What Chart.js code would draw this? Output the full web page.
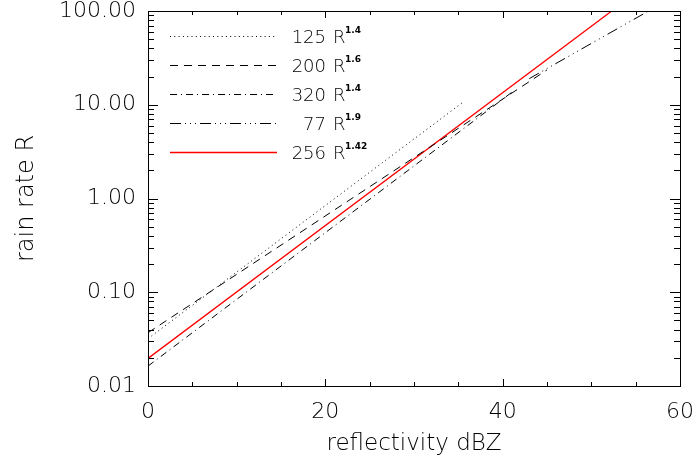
<!DOCTYPE html>
<html>
<head>
<meta charset="utf-8">
<script src="https://cdn.jsdelivr.net/npm/chart.js@4.4.1/dist/chart.umd.min.js"></script>
<style>
  html, body { margin: 0; padding: 0; background: #fff; }
  #wrap { width: 693px; height: 461px; }
</style>
</head>
<body>
<div id="wrap"><canvas id="zr"></canvas></div>
<script>
// Z-R relations, endpoints (dBZ, rain rate)
const dbz125 = [0, 35.5];
const rain125 = [0.032, 10.6];
const dbz200 = [0, 45];
const rain200 = [0.037, 23.5];
const dbz320 = [0, 41];
const rain320 = [0.0163, 13.5];
const dbz77 = [43, 56.7];
const rain77 = [19, 103];
const dbz256 = [0, 52.3];
const rain256 = [0.0197, 100];

const coefs = ['125', '200', '320', '77', '256'];
const exps = ['1.4', '1.6', '1.4', '1.9', '1.42'];

const xTicks = [0, 20, 40, 60];
const yTicks = [0.01, 0.1, 1, 10, 100];

const FONT = "'DejaVu Sans', 'Open Sans', sans-serif";

function pts(xs, ys) {
  return xs.map((x, i) => ({ x: x, y: ys[i] }));
}

// no extra room for labels hanging over the ends of the axes
function noPad(s) {
  s.paddingTop = 0; s.paddingBottom = 0;
  s.paddingLeft = 0; s.paddingRight = 0;
}

// inward IDL-style ticks and the plot frame
const frame = {
  id: 'frame',
  afterDatasetsDraw(chart) {
    const { ctx, chartArea: a, scales: { x, y } } = chart;
    ctx.save();
    ctx.strokeStyle = '#000';
    ctx.lineWidth = 1;
    ctx.setLineDash([]);
    ctx.strokeRect(a.left + 0.5, a.top + 0.5, a.right - a.left, a.bottom - a.top);
    ctx.beginPath();
    for (let v = 0; v <= 60; v += 5) {
      const px = Math.round(x.getPixelForValue(v)) + 0.5;
      const len = v % 20 === 0 ? 7 : 4;
      ctx.moveTo(px, a.bottom); ctx.lineTo(px, a.bottom - len);
      ctx.moveTo(px, a.top); ctx.lineTo(px, a.top + len);
    }
    for (let d = 0.01; d <= 100; d *= 10) {
      for (let m = 1; m <= 9; m++) {
        const v = d * m;
        if (v > 100.0001) break;
        const py = Math.round(y.getPixelForValue(v)) + 0.5;
        const len = m === 1 ? 10 : 6;
        ctx.moveTo(a.left, py); ctx.lineTo(a.left + len, py);
        ctx.moveTo(a.right, py); ctx.lineTo(a.right - len, py);
      }
    }
    ctx.stroke();
    ctx.restore();
  }
};

// legend in the upper left of the plot, with superscript exponents
const zrLegend = {
  id: 'zrLegend',
  afterDatasetsDraw(chart) {
    const { ctx, chartArea: a } = chart;
    ctx.save();
    chart.data.datasets.forEach((ds, i) => {
      const yy = a.top + 25 + i * 29;
      ctx.strokeStyle = ds.borderColor;
      ctx.lineWidth = ds.borderWidth;
      ctx.setLineDash(ds.borderDash || []);
      ctx.beginPath();
      ctx.moveTo(a.left + 22, yy + 0.5);
      ctx.lineTo(a.left + 129, yy + 0.5);
      ctx.stroke();
      ctx.fillStyle = '#000';
      ctx.textBaseline = 'alphabetic';
      ctx.font = '200 18px ' + FONT;
      ctx.textAlign = 'right';
      ctx.fillText(coefs[i], a.left + 178, yy + 7);
      ctx.textAlign = 'left';
      ctx.fillText('R', a.left + 185, yy + 7);
      ctx.font = 'bold 9px ' + FONT;
      ctx.fillText(exps[i], a.left + 197, yy - 3);
    });
    ctx.restore();
  }
};

new Chart(document.getElementById('zr'), {
  type: 'line',
  data: {
    datasets: [
      { label: '125 R^1.4', data: pts(dbz125, rain125), borderColor: '#000', borderWidth: 1, borderDash: [1, 3.3] },
      { label: '200 R^1.6', data: pts(dbz200, rain200), borderColor: '#000', borderWidth: 1, borderDash: [8, 6] },
      { label: '320 R^1.4', data: pts(dbz320, rain320), borderColor: '#000', borderWidth: 1, borderDash: [7, 4, 1, 4] },
      { label: '77 R^1.9', data: pts(dbz77, rain77), borderColor: '#000', borderWidth: 1, borderDash: [11, 4, 1, 4, 1, 4, 1, 4] },
      { label: '256 R^1.42', data: pts(dbz256, rain256), borderColor: '#ff0000', borderWidth: 1.3 }
    ]
  },
  options: {
    responsive: true,
    maintainAspectRatio: false,
    animation: false,
    layout: { padding: { top: 11, right: 13, left: 0, bottom: 0 } },
    elements: { point: { radius: 0 }, line: { tension: 0 } },
    plugins: { legend: { display: false }, tooltip: { enabled: false } },
    scales: {
      x: {
        type: 'linear',
        min: 0, max: 60,
        afterBuildTicks: s => { s.ticks = xTicks.map(v => ({ value: v })); },
        afterFit: s => { s.height = 75; noPad(s); },
        grid: { display: false, drawTicks: false },
        border: { display: false },
        ticks: { color: '#000', font: { family: FONT, size: 22, weight: '200' }, padding: 13, maxRotation: 0 },
        title: { display: true, text: 'reflectivity dBZ', color: '#000', font: { family: FONT, size: 23, weight: '200' }, padding: { top: 0, bottom: 3 } }
      },
      y: {
        type: 'logarithmic',
        min: 0.01, max: 100,
        afterBuildTicks: s => { s.ticks = yTicks.map(v => ({ value: v })); },
        afterFit: s => { s.width = 148; noPad(s); },
        grid: { display: false, drawTicks: false },
        border: { display: false },
        ticks: { color: '#000', font: { family: FONT, size: 22, weight: '200' }, padding: 12, callback: v => Number(v).toFixed(2) },
        title: { display: true, text: 'rain rate R', color: '#000', font: { family: FONT, size: 24, weight: '200' }, padding: { top: 12, bottom: 0 } }
      }
    }
  },
  plugins: [frame, zrLegend]
});
</script>
</body>
</html>
